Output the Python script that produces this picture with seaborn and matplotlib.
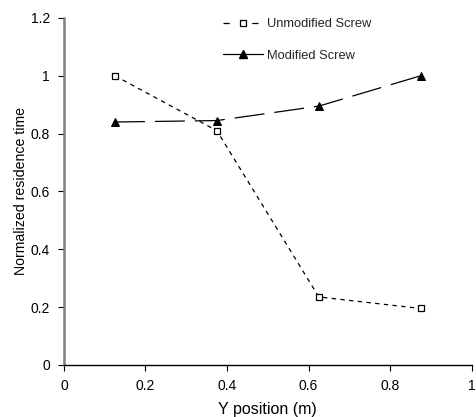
import matplotlib
matplotlib.use("Agg")
import matplotlib.pyplot as plt
from matplotlib.lines import Line2D
import seaborn as sns
import pandas as pd

# Measurement positions along the screw and normalized residence times
positions = [0.125, 0.375, 0.625, 0.875]
unmodified = [1.0, 0.81, 0.235, 0.195]
modified = [0.84, 0.845, 0.895, 1.0]
series_names = ["Unmodified Screw", "Modified Screw"]
x_ticks = [0, 0.2, 0.4, 0.6, 0.8, 1]
y_ticks = [0, 0.2, 0.4, 0.6, 0.8, 1, 1.2]

df = pd.DataFrame({
    "pos": positions * 2,
    "val": unmodified + modified,
    "series": [series_names[0]] * len(positions) + [series_names[1]] * len(positions),
})

sns.set_theme(style="white")
plt.rcParams["font.family"] = ["Liberation Sans", "DejaVu Sans"]

fig = plt.figure(figsize=(4.77, 4.17), dpi=100)
ax = fig.add_axes([0.134, 0.125, 0.855, 0.832])

sns.lineplot(
    data=df, x="pos", y="val", hue="series", style="series",
    palette={series_names[0]: "black", series_names[1]: "black"},
    markers={series_names[0]: "s", series_names[1]: "^"},
    dashes={series_names[0]: (3.5, 3.5), series_names[1]: (24, 8)},
    linewidth=0.9, markersize=5.5, legend=False, ax=ax,
)

lines = ax.get_lines()
# open square markers for the unmodified screw
lines[0].set_markerfacecolor("white")
lines[0].set_markeredgecolor("black")
lines[0].set_markeredgewidth(0.9)
lines[0].set_markersize(5)
lines[1].set_markerfacecolor("black")
lines[1].set_markeredgecolor("black")
lines[1].set_markersize(6)

ax.set_xlim(0, 1)
ax.set_ylim(0, 1.2)
ax.set_xticks(x_ticks)
ax.set_xticklabels([f"{t:g}" for t in x_ticks])
ax.set_yticks(y_ticks)
ax.set_yticklabels([f"{t:g}" for t in y_ticks])
ax.tick_params(axis="both", direction="out", length=4, width=0.8,
               color="black", labelsize=10, labelcolor="black",
               bottom=True, left=True, pad=6)

for side in ["top", "right"]:
    ax.spines[side].set_visible(False)
ax.spines["left"].set_color("#7f7f7f")
ax.spines["left"].set_linewidth(1.8)
ax.spines["bottom"].set_color("black")
ax.spines["bottom"].set_linewidth(1.0)

ax.set_xlabel("Y position (m)", fontsize=11.5, color="black", labelpad=6.3)
ax.set_ylabel("Normalized residence time", fontsize=10.2, color="black", labelpad=2)

# legend keys: sparse dashes around the open square, solid line for the modified screw
handles = [
    Line2D([], [], color="black", linewidth=0.9, dashes=(5, 18),
           marker="s", markersize=5, markerfacecolor="white",
           markeredgecolor="black", markeredgewidth=0.9),
    Line2D([], [], color="black", linewidth=0.9, linestyle="-",
           marker="^", markersize=6, markerfacecolor="black",
           markeredgecolor="black"),
]
leg = ax.legend(handles=handles, labels=series_names, frameon=False,
                loc="upper left", bbox_to_anchor=(0.362, 1.033),
                fontsize=9.3, handlelength=3.1, labelspacing=1.5,
                handletextpad=0.3)

fig.savefig("out.png", dpi=100, facecolor="white")
